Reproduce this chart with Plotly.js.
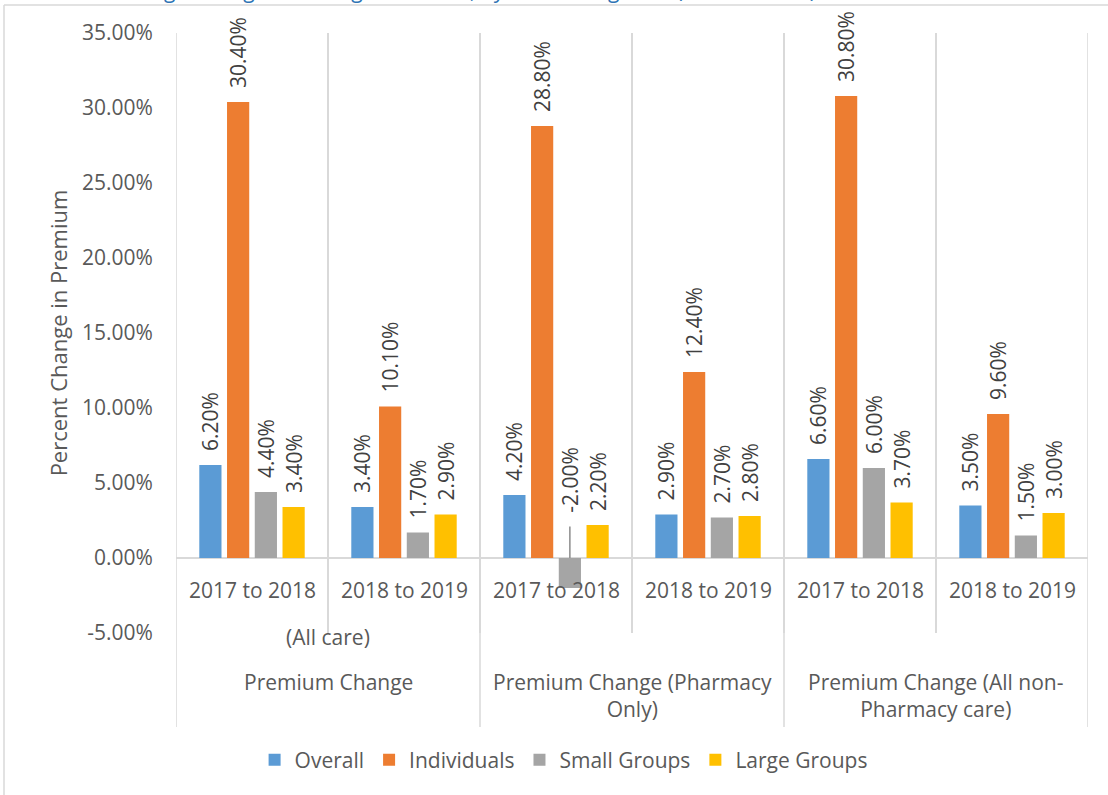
<!DOCTYPE html>
<html>
<head>
<meta charset="utf-8">
<script src="https://cdn.plot.ly/plotly-3.0.1.min.js"></script>
<style>
  html, body { margin: 0; padding: 0; background: #ffffff; }
  #chart { width: 1108px; height: 795px; }
</style>
</head>
<body>
<div id="chart"></div>
<script>
// ---- data ----
const groupLabels = ["Premium Change", "Premium Change (Pharmacy<br>Only)", "Premium Change (All non-<br>Pharmacy care)"];
const groupNotes = ["(All care)", "", ""];
const periods = ["2017 to 2018", "2018 to 2019"];
const seriesNames = ["Overall", "Individuals", "Small Groups", "Large Groups"];
const overall = [6.2, 3.4, 4.2, 2.9, 6.6, 3.5];
const individuals = [30.4, 10.1, 28.8, 12.4, 30.8, 9.6];
const smallGroups = [4.4, 1.7, -2.0, 2.7, 6.0, 1.5];
const largeGroups = [3.4, 2.9, 2.2, 2.8, 3.7, 3.0];
const yTickValues = [-5, 0, 5, 10, 15, 20, 25, 30, 35];
const chartTitle = "Percentage Change in Average Premium, by Market Segment (2017 to 2019)";

// ---- styling ----
const colors = ["#5B9BD5", "#ED7D31", "#A5A5A5", "#FFC000"];
const FONT = "Open Sans, Noto Sans, sans-serif";
const axisGrey = "#595959";
const labelGrey = "#404040";
const lineGrey = "#D9D9D9";
const BARGAP = 0.27;
const nTraces = seriesNames.length;

// plot geometry (px) for converting decorative positions
const M = { l: 176, r: 20, t: 33, b: 162 };
const W = 1108, H = 795;
const plotW = W - M.l - M.r, plotH = H - M.t - M.b;
const px2paperX = px => (px - M.l) / plotW;
const px2paperY = py => (H - M.b - py) / plotH;

// category positions
const nSlots = groupLabels.length * periods.length;
const xIdx = [];
const subText = [];
for (let g = 0; g < groupLabels.length; g++) {
  for (let p = 0; p < periods.length; p++) {
    xIdx.push(g * periods.length + p);
    subText.push(periods[p]);
  }
}

const allSeries = [overall, individuals, smallGroups, largeGroups];
const fmt = v => v.toFixed(2) + "%";
const nb = "\u00a0\u00a0";

const traces = allSeries.map((vals, i) => ({
  type: "bar",
  name: seriesNames[i],
  x: xIdx,
  y: vals,
  marker: { color: colors[i] },
  text: vals.map(v => v < 0 ? "" : nb + fmt(v)),
  texttemplate: "%{text}",
  textposition: "outside",
  textangle: -90,
  constraintext: "none",
  cliponaxis: false,
  textfont: { family: FONT, size: 21, color: labelGrey },
  hoverinfo: "skip"
}));

const annotations = [];
// sub-category labels just under the zero line
xIdx.forEach((x, k) => {
  annotations.push({
    xref: "x", yref: "y", x: x, y: 0, yanchor: "middle", xanchor: "center",
    yshift: -32, showarrow: false, text: subText[k],
    font: { family: FONT, size: 21, color: axisGrey }
  });
});
// group notes and group labels
groupLabels.forEach((gl, g) => {
  const cx = g * periods.length + (periods.length - 1) / 2;
  if (groupNotes[g]) {
    annotations.push({
      xref: "x", yref: "paper", x: cx, y: 0, yanchor: "middle", xanchor: "center",
      yshift: -4, showarrow: false, text: groupNotes[g],
      font: { family: FONT, size: 21, color: axisGrey }
    });
  }
  annotations.push({
    xref: "x", yref: "paper", x: cx, y: 0, yanchor: "top", xanchor: "center",
    yshift: -33, showarrow: false, text: gl,
    font: { family: FONT, size: 21, color: axisGrey }
  });
});
// labels for negative bars, lifted above the axis with a leader line
const pitch = (1 - BARGAP) / nTraces;
allSeries.forEach((vals, i) => {
  vals.forEach((v, k) => {
    if (v < 0) {
      annotations.push({
        xref: "x", yref: "y", x: xIdx[k] + (i - (nTraces - 1) / 2) * pitch, y: 0,
        text: fmt(v), textangle: -90, showarrow: true, arrowhead: 0,
        arrowwidth: 1.5, arrowcolor: "#8C8C8C", ax: 0, ay: -78, startstandoff: 12,
        font: { family: FONT, size: 21, color: labelGrey }
      });
    }
  });
});
// clipped caption above the chart frame
annotations.push({
  xref: "paper", yref: "paper", x: px2paperX(818), y: px2paperY(-10),
  xanchor: "right", yanchor: "middle", showarrow: false, text: chartTitle,
  font: { family: FONT, size: 21, color: "#2E74B5" }
});

// decorative lines: group dividers and chart frame
const shapes = [];
for (let g = 0; g <= groupLabels.length; g++) {
  const xb = g * periods.length - 0.5;
  shapes.push({
    type: "line", xref: "x", yref: "paper", x0: xb, x1: xb, y0: 1, y1: px2paperY(727),
    line: { color: lineGrey, width: 1.5 }
  });
}
shapes.push({ type: "line", xref: "paper", yref: "paper",
  x0: px2paperX(4), x1: px2paperX(4), y0: px2paperY(5), y1: px2paperY(800),
  line: { color: lineGrey, width: 1.5 } });
shapes.push({ type: "line", xref: "paper", yref: "paper",
  x0: px2paperX(4), x1: px2paperX(1110), y0: px2paperY(5), y1: px2paperY(5),
  line: { color: lineGrey, width: 1.5 } });

const boundaries = [];
for (let s = 0; s <= nSlots; s++) boundaries.push(s - 0.5);

const layout = {
  width: W, height: H,
  margin: M,
  paper_bgcolor: "#ffffff",
  plot_bgcolor: "#ffffff",
  font: { family: FONT, size: 21, color: axisGrey },
  barmode: "group",
  bargap: BARGAP,
  bargroupgap: 0.2,
  showlegend: true,
  legend: {
    orientation: "h", x: 0.425, xanchor: "center", y: px2paperY(760), yanchor: "middle",
    font: { family: FONT, size: 21, color: axisGrey }, traceorder: "normal"
  },
  xaxis: {
    type: "linear", range: [-0.5, nSlots - 0.5],
    tickvals: boundaries, showticklabels: false, ticks: "",
    showgrid: true, gridcolor: lineGrey, gridwidth: 1.5,
    zeroline: false, showline: false, fixedrange: true
  },
  yaxis: {
    range: [-5, 35],
    tickvals: yTickValues,
    ticktext: yTickValues.map(fmt),
    ticks: "outside", ticklen: 18, tickcolor: "rgba(0,0,0,0)",
    tickfont: { family: FONT, size: 21, color: axisGrey },
    showgrid: false, showline: false,
    zeroline: true, zerolinecolor: lineGrey, zerolinewidth: 1.5,
    title: { text: "Percent Change in Premium", standoff: 8,
      font: { family: FONT, size: 22, color: axisGrey } },
    fixedrange: true
  },
  annotations: annotations,
  shapes: shapes
};

Plotly.newPlot("chart", traces, layout, { displayModeBar: false, staticPlot: true });
</script>
</body>
</html>
